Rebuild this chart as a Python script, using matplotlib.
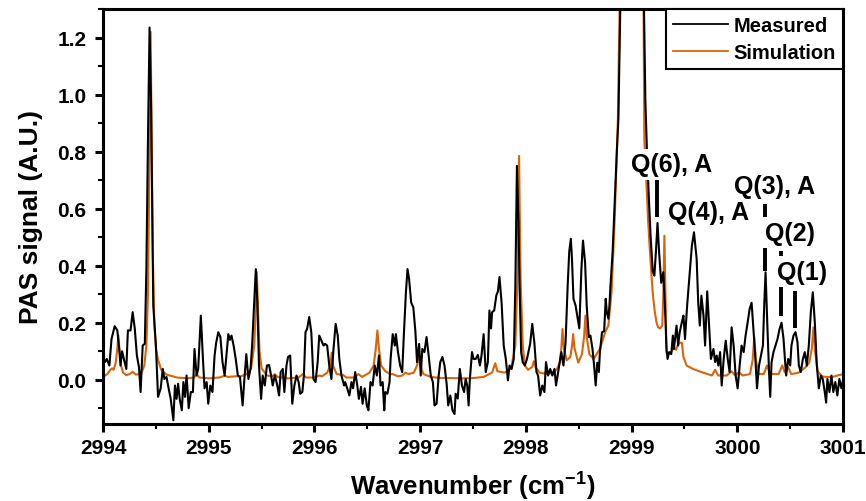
import matplotlib
matplotlib.use("Agg")
import matplotlib.pyplot as plt
from matplotlib.ticker import MultipleLocator

plt.rcParams['font.family'] = ['Liberation Sans', 'DejaVu Sans']
plt.rcParams['font.weight'] = 'bold'

# ---------------- data ----------------
meas_x = [2994.00, 2994.02, 2994.035, 2994.06, 2994.08, 2994.11, 2994.135, 2994.155, 2994.165, 2994.18,
          2994.20, 2994.22, 2994.235, 2994.26, 2994.28, 2994.30, 2994.32, 2994.34, 2994.355, 2994.375,
          2994.395, 2994.41, 2994.425, 2994.44, 2994.455, 2994.475, 2994.50, 2994.52, 2994.545, 2994.565,
          2994.58, 2994.60, 2994.615, 2994.64, 2994.665, 2994.68, 2994.695, 2994.71, 2994.725, 2994.745,
          2994.76, 2994.775, 2994.79, 2994.81, 2994.83, 2994.85, 2994.865, 2994.885, 2994.90, 2994.925,
          2994.945, 2994.96, 2994.98, 2994.995, 2995.015, 2995.035, 2995.055, 2995.07, 2995.09, 2995.11,
          2995.13, 2995.15, 2995.185, 2995.20, 2995.215, 2995.235, 2995.255, 2995.275, 2995.295, 2995.32,
          2995.335, 2995.355, 2995.375, 2995.395, 2995.41, 2995.43, 2995.445, 2995.46, 2995.475, 2995.495,
          2995.51, 2995.53, 2995.55, 2995.57, 2995.59, 2995.605, 2995.625, 2995.645, 2995.665, 2995.68,
          2995.70, 2995.715, 2995.735, 2995.75, 2995.77, 2995.79, 2995.81, 2995.83, 2995.85, 2995.865,
          2995.885, 2995.90, 2995.915, 2995.93, 2995.95, 2995.97, 2995.99, 2996.01, 2996.03, 2996.045,
          2996.065, 2996.085, 2996.10, 2996.12, 2996.14, 2996.16, 2996.18, 2996.20, 2996.22, 2996.235,
          2996.255, 2996.28, 2996.29, 2996.31, 2996.33, 2996.35, 2996.365, 2996.385, 2996.405, 2996.42,
          2996.44, 2996.455, 2996.475, 2996.495, 2996.51, 2996.53, 2996.55, 2996.57, 2996.59, 2996.61,
          2996.625, 2996.645, 2996.66, 2996.67, 2996.69, 2996.71, 2996.72, 2996.74, 2996.76, 2996.77,
          2996.79, 2996.81, 2996.83, 2996.845, 2996.865, 2996.88, 2996.895, 2996.915, 2996.935, 2996.955,
          2996.97, 2996.99, 2997.005, 2997.02, 2997.04, 2997.06, 2997.08, 2997.10, 2997.12, 2997.135,
          2997.155, 2997.175, 2997.19, 2997.21, 2997.23, 2997.25, 2997.265, 2997.285, 2997.305, 2997.325,
          2997.335, 2997.355, 2997.375, 2997.395, 2997.415, 2997.43, 2997.445, 2997.458, 2997.47, 2997.49,
          2997.505, 2997.525, 2997.545, 2997.565, 2997.58, 2997.60, 2997.62, 2997.64, 2997.655, 2997.67,
          2997.68, 2997.70, 2997.72, 2997.735, 2997.75, 2997.77, 2997.79, 2997.81, 2997.83, 2997.845,
          2997.865, 2997.885, 2997.90, 2997.915, 2997.93, 2997.94, 2997.955, 2997.97, 2997.99, 2998.01,
          2998.04, 2998.06, 2998.08, 2998.10, 2998.115, 2998.135, 2998.155, 2998.175, 2998.19, 2998.21,
          2998.23, 2998.25, 2998.27, 2998.285, 2998.305, 2998.32, 2998.335, 2998.355, 2998.375, 2998.395,
          2998.41, 2998.425, 2998.435, 2998.45, 2998.47, 2998.49, 2998.505, 2998.525, 2998.54, 2998.56,
          2998.575, 2998.595, 2998.61, 2998.63, 2998.645, 2998.66, 2998.675, 2998.69, 2998.70, 2998.72,
          2998.74, 2998.755, 2998.765, 2998.78, 2998.79, 2998.80, 2998.82, 2998.84, 2998.86, 2998.875,
          2998.895, 2998.93, 2998.97, 2999.01, 2999.05, 2999.09, 2999.115, 2999.13, 2999.145, 2999.165,
          2999.18, 2999.20, 2999.215, 2999.23, 2999.245, 2999.26, 2999.28, 2999.30, 2999.315, 2999.33,
          2999.34, 2999.355, 2999.375, 2999.39, 2999.40, 2999.41, 2999.425, 2999.44, 2999.455, 2999.475,
          2999.49, 2999.505, 2999.525, 2999.545, 2999.57, 2999.59, 2999.615, 2999.63, 2999.645, 2999.66,
          2999.68, 2999.695, 2999.715, 2999.75, 2999.774, 2999.79, 2999.805, 2999.82, 2999.837, 2999.852,
          2999.871, 2999.89, 2999.909, 2999.927, 2999.946, 2999.965, 2999.984, 3000.003, 3000.022, 3000.04,
          3000.06, 3000.078, 3000.097, 3000.116, 3000.135, 3000.148, 3000.167, 3000.186, 3000.205, 3000.224,
          3000.242, 3000.255, 3000.267, 3000.283, 3000.30, 3000.311, 3000.324, 3000.342, 3000.361, 3000.38,
          3000.399, 3000.418, 3000.437, 3000.45, 3000.462, 3000.481, 3000.50, 3000.512, 3000.531, 3000.55,
          3000.569, 3000.582, 3000.60, 3000.62, 3000.638, 3000.657, 3000.676, 3000.695, 3000.714, 3000.733,
          3000.752, 3000.771, 3000.79, 3000.808, 3000.827, 3000.84, 3000.852, 3000.871, 3000.89, 3000.908,
          3000.927, 3000.946, 3000.965, 3000.984, 3001.00]
meas_y = [0.060, 0.063, 0.073, 0.050, 0.143, 0.188, 0.173, 0.098, 0.050, 0.100,
          0.068, 0.038, 0.173, 0.173, 0.237, 0.180, 0.085, 0.044, -0.043, 0.120,
          0.126, 0.390, 0.850, 1.235, 0.950, 0.260, 0.120, -0.060, -0.030, 0.038,
          0.003, 0.010, -0.020, -0.067, -0.142, -0.020, -0.067, -0.014, -0.067, -0.107,
          -0.008, -0.060, 0.015, -0.100, -0.043, -0.043, 0.108, 0.015, 0.038, 0.225,
          0.073, -0.030, -0.008, -0.084, -0.020, -0.043, 0.085, 0.130, 0.167, 0.150,
          0.062, 0.015, 0.160, 0.140, 0.155, 0.120, 0.073, 0.015, 0.010, -0.090,
          -0.008, 0.090, 0.003, 0.038, 0.120, 0.270, 0.388, 0.270, 0.050, -0.067,
          0.015, -0.020, 0.050, 0.052, 0.015, -0.020, 0.015, -0.014, -0.055, 0.027,
          0.038, -0.043, 0.050, 0.080, 0.085, -0.084, -0.020, 0.015, -0.008, -0.049,
          -0.043, 0.015, 0.167, 0.178, 0.220, 0.167, 0.003, -0.008, 0.062, 0.155,
          0.138, 0.120, 0.126, 0.120, 0.050, 0.003, 0.108, 0.196, 0.155, 0.073,
          0.015, -0.020, -0.008, -0.030, -0.055, -0.008, -0.030, 0.027, -0.020, -0.067,
          -0.025, -0.084, -0.030, -0.090, -0.107, -0.008, -0.020, 0.050, 0.015, 0.085,
          -0.020, -0.008, -0.107, -0.043, -0.049, -0.008, 0.073, 0.160, 0.120, 0.160,
          0.097, 0.050, 0.027, 0.155, 0.307, 0.388, 0.353, 0.270, 0.254, 0.167,
          0.062, 0.126, 0.015, 0.108, 0.097, 0.150, 0.085, 0.015, -0.008, -0.090,
          -0.084, 0.015, 0.062, 0.080, 0.050, -0.014, -0.090, -0.055, -0.107, -0.120,
          -0.049, -0.066, 0.038, -0.020, -0.043, 0.003, -0.020, -0.090, 0.003, 0.097,
          0.073, 0.073, 0.087, 0.050, 0.085, 0.160, 0.027, 0.062, 0.243, 0.180,
          0.237, 0.243, 0.295, 0.310, 0.360, 0.270, 0.120, 0.073, -0.002, 0.050,
          0.038, 0.073, 0.330, 0.750, 0.550, 0.330, 0.097, 0.062, 0.050, 0.073,
          0.126, 0.196, 0.130, 0.027, 0.015, -0.055, -0.020, -0.043, 0.062, 0.015,
          0.038, 0.015, 0.038, -0.020, 0.027, 0.062, 0.097, 0.050, 0.130, 0.330,
          0.450, 0.494, 0.430, 0.284, 0.260, 0.214, 0.180, 0.388, 0.488, 0.410,
          0.260, 0.150, 0.155, 0.108, 0.050, -0.020, 0.060, 0.027, 0.097, 0.167,
          0.170, 0.284, 0.237, 0.214, 0.260, 0.330, 0.447, 0.622, 0.800, 0.914,
          1.350, 2.000, 2.700, 3.000, 2.700, 2.000, 1.350, 0.980, 0.800, 0.620,
          0.500, 0.380, 0.365, 0.450, 0.550, 0.447, 0.340, 0.377, 0.260, 0.108,
          0.073, 0.097, 0.090, 0.155, 0.108, 0.140, 0.190, 0.120, 0.167, 0.202,
          0.225, 0.143, 0.260, 0.353, 0.470, 0.517, 0.424, 0.270, 0.190, 0.295,
          0.225, 0.120, 0.310, 0.073, 0.108, 0.062, 0.085, 0.050, 0.097, -0.020,
          0.073, 0.137, 0.073, 0.027, 0.184, 0.120, 0.015, -0.030, 0.050, 0.120,
          0.097, 0.155, 0.200, 0.248, 0.270, 0.200, 0.097, -0.030, 0.050, 0.085,
          0.120, 0.270, 0.377, 0.200, 0.027, -0.060, 0.062, 0.097, 0.120, 0.143,
          0.178, 0.200, 0.143, 0.073, 0.015, 0.073, 0.050, 0.120, 0.155, 0.167,
          0.132, 0.050, 0.027, 0.073, 0.097, 0.050, 0.120, 0.237, 0.307, 0.200,
          0.050, -0.030, 0.015, 0.003, -0.043, -0.080, 0.003, -0.043, 0.015, -0.043,
          -0.008, -0.055, 0.003, -0.030, 0.000]

sim_x = [2994.00, 2994.04, 2994.07, 2994.085, 2994.10, 2994.12, 2994.135, 2994.145, 2994.155, 2994.17,
         2994.19, 2994.22, 2994.25, 2994.28, 2994.31, 2994.34, 2994.37, 2994.39, 2994.41, 2994.425,
         2994.44, 2994.45, 2994.46, 2994.47, 2994.485, 2994.50, 2994.52, 2994.55, 2994.60, 2994.70,
         2994.80, 2994.86, 2994.885, 2994.91, 2995.00, 2995.10, 2995.15, 2995.18, 2995.25, 2995.30,
         2995.36, 2995.40, 2995.43, 2995.445, 2995.455, 2995.465, 2995.48, 2995.50, 2995.55, 2995.60,
         2995.625, 2995.65, 2995.75, 2995.85, 2995.89, 2995.92, 2996.00, 2996.05, 2996.07, 2996.12,
         2996.15, 2996.163, 2996.175, 2996.21, 2996.27, 2996.30, 2996.38, 2996.415, 2996.45, 2996.52,
         2996.56, 2996.58, 2996.595, 2996.61, 2996.63, 2996.67, 2996.72, 2996.74, 2996.79, 2996.83,
         2996.86, 2996.89, 2996.94, 2996.97, 2996.985, 2997.00, 2997.03, 2997.10, 2997.20, 2997.29,
         2997.40, 2997.50, 2997.60, 2997.68, 2997.71, 2997.73, 2997.80, 2997.86, 2997.90, 2997.92,
         2997.935, 2997.95, 2997.97, 2997.99, 2998.02, 2998.06, 2998.075, 2998.09, 2998.13, 2998.20,
         2998.25, 2998.29, 2998.32, 2998.335, 2998.346, 2998.36, 2998.385, 2998.42, 2998.437, 2998.447,
         2998.46, 2998.495, 2998.53, 2998.55, 2998.563, 2998.575, 2998.60, 2998.64, 2998.70, 2998.75,
         2998.78, 2998.81, 2998.84, 2998.87, 2998.89, 2998.93, 2998.97, 2999.01, 2999.05, 2999.09,
         2999.11, 2999.12, 2999.14, 2999.155, 2999.17, 2999.19, 2999.205, 2999.22, 2999.235, 2999.25,
         2999.27, 2999.29, 2999.30, 2999.31, 2999.32, 2999.33, 2999.35, 2999.38, 2999.40, 2999.42,
         2999.44, 2999.46, 2999.475, 2999.49, 2999.52, 2999.58, 2999.66, 2999.72, 2999.76, 2999.79,
         2999.82, 2999.90, 2999.945, 2999.98, 3000.015, 3000.05, 3000.12, 3000.145, 3000.16, 3000.175,
         3000.20, 3000.25, 3000.28, 3000.31, 3000.39, 3000.425, 3000.45, 3000.48, 3000.51, 3000.58,
         3000.645, 3000.68, 3000.705, 3000.72, 3000.735, 3000.76, 3000.80, 3000.85, 3000.90, 3000.95,
         3001.00]
sim_y = [0.010, 0.020, 0.035, 0.040, 0.035, 0.060, 0.110, 0.155, 0.110, 0.050,
         0.025, 0.016, 0.020, 0.028, 0.018, 0.020, 0.030, 0.050, 0.120, 0.300,
         0.800, 1.220, 0.850, 0.450, 0.200, 0.110, 0.070, 0.035, 0.018, 0.008,
         0.005, 0.008, 0.020, 0.008, 0.005, 0.008, 0.014, 0.010, 0.012, 0.012,
         0.020, 0.040, 0.120, 0.250, 0.377, 0.250, 0.100, 0.040, 0.015, 0.012,
         0.020, 0.010, 0.005, 0.008, 0.020, 0.008, 0.008, 0.015, 0.012, 0.025,
         0.050, 0.095, 0.050, 0.020, 0.017, 0.008, 0.008, 0.020, 0.010, 0.025,
         0.050, 0.110, 0.173, 0.110, 0.050, 0.030, 0.020, 0.020, 0.012, 0.015,
         0.025, 0.020, 0.025, 0.050, 0.085, 0.050, 0.020, 0.010, 0.006, 0.006,
         0.005, 0.006, 0.010, 0.025, 0.058, 0.030, 0.025, 0.040, 0.120, 0.350,
         0.785, 0.350, 0.120, 0.050, 0.035, 0.045, 0.065, 0.045, 0.025, 0.020,
         0.025, 0.035, 0.060, 0.110, 0.178, 0.110, 0.068, 0.080, 0.120, 0.160,
         0.110, 0.060, 0.090, 0.150, 0.225, 0.150, 0.090, 0.073, 0.108, 0.167,
         0.190, 0.307, 0.564, 0.914, 1.400, 2.600, 3.800, 4.200, 3.800, 2.600,
         1.500, 0.843, 0.690, 0.564, 0.470, 0.353, 0.284, 0.237, 0.202, 0.184,
         0.180, 0.190, 0.300, 0.505, 0.300, 0.097, 0.090, 0.100, 0.115, 0.105,
         0.125, 0.130, 0.130, 0.080, 0.050, 0.038, 0.027, 0.020, 0.015, 0.035,
         0.015, 0.015, 0.030, 0.015, 0.027, 0.015, 0.020, 0.070, 0.150, 0.070,
         0.020, 0.020, 0.050, 0.020, 0.020, 0.050, 0.025, 0.044, 0.020, 0.025,
         0.044, 0.060, 0.110, 0.184, 0.100, 0.030, 0.012, 0.010, 0.010, 0.015,
         0.020]

# annotation labels (text, x, y) and marker bars (x, y_bottom, y_top)
ann_text = ["Q(6), A", "Q(4), A", "Q(3), A", "Q(2)", "Q(1)"]
ann_x = [2999.375, 2999.73, 3000.35, 3000.50, 3000.61]
ann_y = [0.756, 0.588, 0.679, 0.515, 0.378]
bar_x = [2999.24, 3000.264, 3000.41, 3000.547]
bar_lo = [0.57, 0.38, 0.224, 0.18]
bar_hi = [0.703, 0.616, 0.45, 0.31]

x_ticks = [2994, 2995, 2996, 2997, 2998, 2999, 3000, 3001]
y_ticks = [0.0, 0.2, 0.4, 0.6, 0.8, 1.0, 1.2]

# ---------------- plot ----------------
orange = '#D9650B'
fig = plt.figure(figsize=(8.66, 5.02), dpi=100)
ax = fig.add_axes([0.119, 0.1534, 0.8545, 0.8267])

ax.plot(meas_x, meas_y, color='black', lw=1.5, label='Measured', zorder=3)
ax.plot(sim_x, sim_y, color=orange, lw=1.5, label='Simulation', zorder=2)

ax.vlines(bar_x, bar_lo, bar_hi, colors='black', lw=2.8, zorder=4)
for t, x, y in zip(ann_text, ann_x, ann_y):
    ax.text(x, y, t, ha='center', va='center', fontsize=18, fontweight='bold',
            zorder=5, bbox=dict(facecolor='white', edgecolor='none', pad=2.5))

ax.set_xlim(2994, 3001)
ax.set_ylim(-0.155, 1.30)
ax.set_xticks(x_ticks)
ax.set_yticks(y_ticks)
ax.set_yticklabels([f"{v:.1f}" for v in y_ticks])
ax.xaxis.set_minor_locator(MultipleLocator(0.5))
ax.yaxis.set_minor_locator(MultipleLocator(0.1))
ax.tick_params(which='major', direction='out', length=6, width=2.2, labelsize=15)
ax.tick_params(axis='x', which='major', pad=4)
ax.tick_params(axis='y', which='major', pad=6)
ax.tick_params(which='minor', direction='out', length=3.5, width=1.5)
ax.tick_params(top=False, right=False, which='both')
for lab in ax.get_xticklabels() + ax.get_yticklabels():
    lab.set_fontweight('bold')
for sp in ax.spines.values():
    sp.set_linewidth(2.2)

ax.set_xlabel('Wavenumber (cm$^{\\mathregular{-1}}$)', fontsize=18.5, fontweight='bold', labelpad=8)
ax.set_ylabel('PAS signal (A.U.)', fontsize=19, fontweight='bold', labelpad=10)

leg = ax.legend(loc='upper right', bbox_to_anchor=(1, 1), borderaxespad=0, fancybox=False,
                prop={'weight': 'bold', 'size': 14.5}, handlelength=2.7, handletextpad=0.3,
                borderpad=0.35, labelspacing=0.4, framealpha=1)
leg.get_frame().set_edgecolor('black')
leg.get_frame().set_linewidth(1.5)
for ln in leg.get_lines():
    ln.set_linewidth(1.3)

fig.savefig('out.png', dpi=100)
